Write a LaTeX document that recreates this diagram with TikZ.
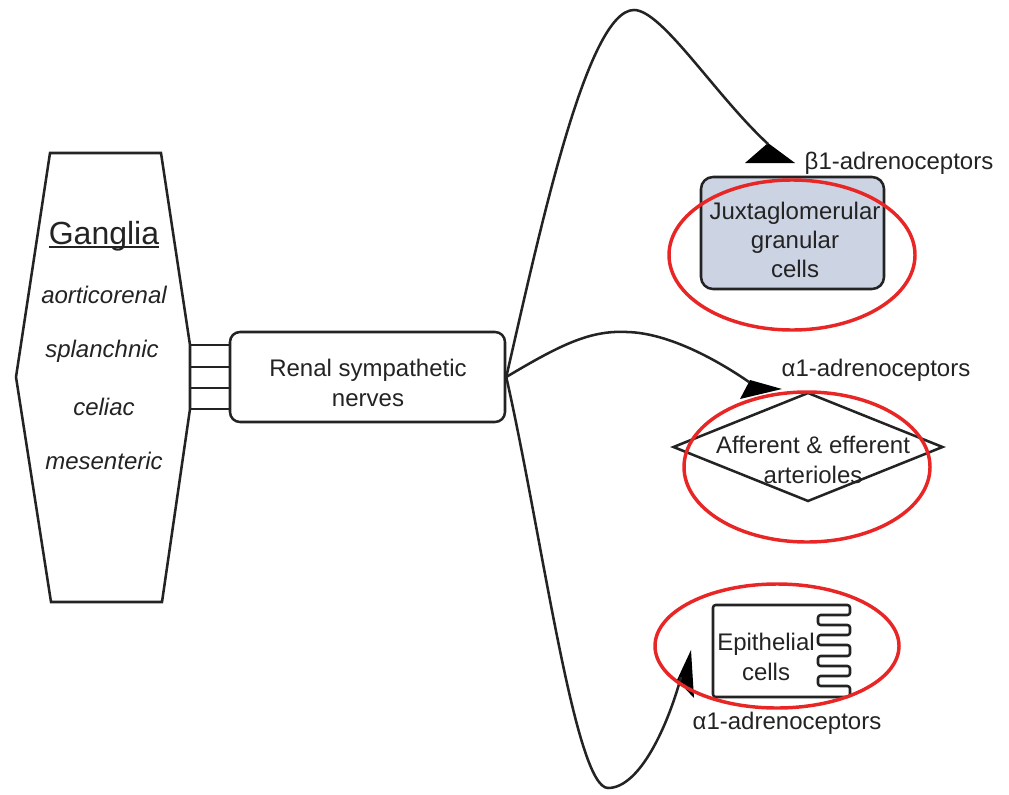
\documentclass[tikz,border=0pt]{standalone}
\usepackage{fontspec}
\setmainfont{Liberation Sans}
\usetikzlibrary{shapes.geometric}
\definecolor{jgfill}{RGB}{204,211,226}
\definecolor{markred}{RGB}{232,38,38}
\definecolor{ink}{RGB}{35,35,35}
\newcommand\gul[1]{\setbox0\hbox{#1}\rlap{\rule[-2.5pt]{\wd0}{1.1pt}}\box0}
\tikzset{
  txt/.style={font=\fontsize{18}{22}\selectfont, inner sep=0pt, align=center, text=ink},
  gtxt/.style={txt, font=\fontsize{18}{22}\selectfont\itshape},
  outline/.style={draw=ink, line width=1.9pt},
  nerve/.style={draw=ink, line width=1.9pt},
  receptor/.style={fill=black},
  redmark/.style={draw=markred, line width=2.6pt}
}
\begin{document}
\begin{tikzpicture}[x=0.75pt,y=-0.75pt]
\useasboundingbox (0,0) rectangle (1009,795);

% Ganglia
\draw[outline] (50,153) -- (161,153) -- (190,345) -- (190,409) -- (162,602) -- (51,602) -- (16,377) -- cycle;
\coordinate (g1) at (190,345);
\coordinate (g2) at (190,367);
\coordinate (g3) at (190,388);
\coordinate (g4) at (190,409);
\node[txt, font=\fontsize{24}{28}\selectfont] (gang) at (104,236) {\gul{Ganglia}};
\node[gtxt] (gaort) at (104,295) {aorticorenal};
\node[gtxt] (gspl) at (102,351) {splanchnic};
\node[gtxt] (gcel) at (104,407) {celiac};
\node[gtxt] (gmes) at (104,461) {mesenteric};

% Renal sympathetic nerves
\node[outline, rounded corners=7.5pt, minimum width=206.25pt, minimum height=67.5pt] (renal) at (367.5,377) {};
\node[txt] (renalt) at (368,383) {Renal sympathetic\\nerves};
\foreach \g in {g1,g2,g3,g4} \draw[outline] (\g) -- (renal.west |- \g);

% Juxtaglomerular granular cells
\node[outline, fill=jgfill, rounded corners=9pt, minimum width=137.25pt, minimum height=84pt] (jg) at (792.5,233) {};
\node[txt] (jgt) at (795,240) {Juxtaglomerular\\granular\\cells};

% Arterioles
\node[diamond, outline, minimum width=202.5pt, minimum height=81.75pt, inner sep=0pt] (art) at (808,447) {};
\node[txt] (artt) at (813,460) {Afferent \& efferent\\arterioles};

% Epithelial cells
\draw[outline, rounded corners=2pt] (713,605) -- (850,605) -- (850,615) -- (818,615) -- (818,625)
  -- (850,625) -- (850,635) -- (818,635) -- (818,645) -- (850,645) -- (850,656) -- (818,656)
  -- (818,666) -- (850,666) -- (850,676) -- (818,676) -- (818,686) -- (850,686) -- (850,697)
  -- (713,697) -- cycle;
\node[txt] (epi) at (766,657) {Epithelial\\cells};

% receptors
\fill[receptor] (745,163) -- (795,163) -- (768,143) -- cycle;
\fill[receptor] (740,399) -- (750,380) -- (782,389) -- cycle;
\fill[receptor] (691,650) -- (677,680) -- (694,698) -- cycle;
\coordinate (r1) at (768,144);
\coordinate (r2) at (749,382);
\coordinate (r3) at (681,677);

% nerves
\draw[nerve] (renal.east) .. controls (540,230) and (587,10) .. (634,10)
  .. controls (662,10) and (715,95) .. (r1);
\draw[nerve] (renal.east) .. controls (560,345) and (590,330) .. (627,332)
  .. controls (670,333) and (720,362) .. (r2);
\draw[nerve] (renal.east) .. controls (542,535) and (575,788) .. (608,788)
  .. controls (640,788) and (668,725) .. (r3);

% labels
\node[txt] (b1) at (899,163) {β1-adrenoceptors};
\node[txt] (a1) at (876,370) {α1-adrenoceptors};
\node[txt] (a2) at (787,723) {α1-adrenoceptors};

% red marks
\draw[redmark] (792,255) ellipse [x radius=123, y radius=75];
\draw[redmark] (807,467) ellipse [x radius=123, y radius=75];
\draw[redmark] (777,646) ellipse [x radius=122, y radius=62];
\end{tikzpicture}
\end{document}
